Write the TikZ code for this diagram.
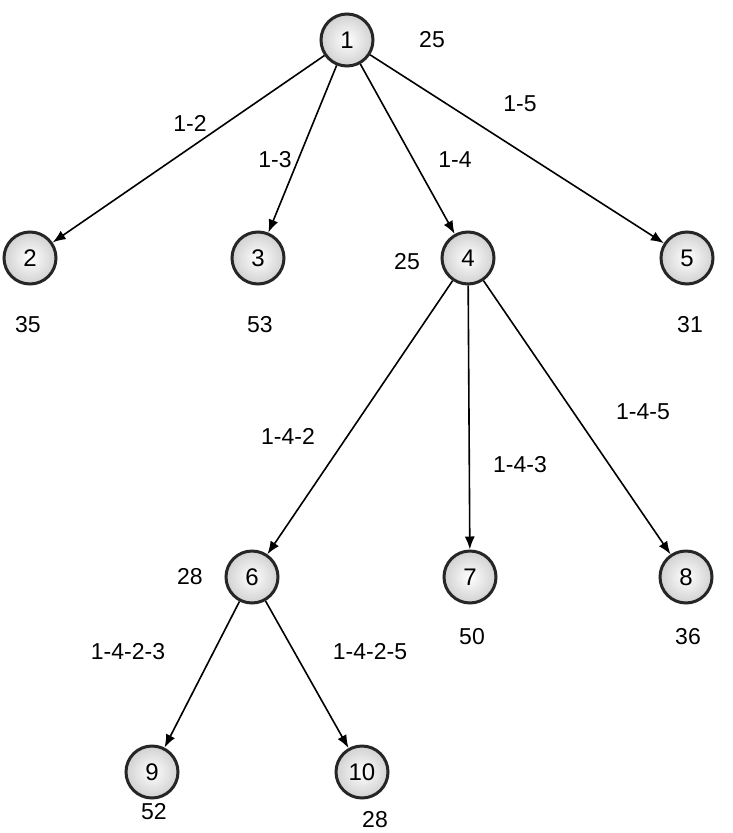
\documentclass[tikz,border=0pt]{standalone}
\usepackage{fontspec}
\setmainfont{Liberation Sans}
\begin{document}
\begin{tikzpicture}[x=1pt,y=-1pt,
  nd/.style={circle,draw=black!85,line width=3pt,minimum size=52pt,inner sep=0pt,inner color=white,outer color=black!18,font=\fontsize{24}{28}\selectfont},
  lb/.style={font=\fontsize{23}{27}\selectfont},
  ar/.style={-{Latex[length=13pt,width=10pt]},line width=1.6pt}]
\useasboundingbox (0,0) rectangle (732,833);
\usetikzlibrary{arrows.meta}
\node[nd] (n1) at (347,40) {1};
\node[nd] (n2) at (30,258) {2};
\node[nd] (n3) at (258,258) {3};
\node[nd] (n4) at (468,258) {4};
\node[nd] (n5) at (687,258) {5};
\node[nd] (n6) at (252,577) {6};
\node[nd] (n7) at (470,577) {7};
\node[nd] (n8) at (686,577) {8};
\node[nd] (n9) at (152,772) {9};
\node[nd] (n10) at (362,772) {10};
\draw[ar] (n1) -- (n2);
\draw[ar] (n1) -- (n3);
\draw[ar] (n1) -- (n4);
\draw[ar] (n1) -- (n5);
\draw[ar] (n4) -- (n6);
\draw[ar] (n4) -- (n7);
\draw[ar] (n4) -- (n8);
\draw[ar] (n6) -- (n9);
\draw[ar] (n6) -- (n10);
\node[lb] (l12) at (190,123) {1-2};
\node[lb] (l13) at (275,160) {1-3};
\node[lb] (l14) at (455,160) {1-4};
\node[lb] (l15) at (520,104) {1-5};
\node[lb] (l142) at (288,436) {1-4-2};
\node[lb] (l143) at (520,465) {1-4-3};
\node[lb] (l145) at (643,412) {1-4-5};
\node[lb] (l1423) at (128,652) {1-4-2-3};
\node[lb] (l1425) at (370,652) {1-4-2-5};
\node[lb] (v1) at (432,40) {25};
\node[lb] (v2) at (28,325) {35};
\node[lb] (v3) at (260,325) {53};
\node[lb] (v4) at (407,262) {25};
\node[lb] (v5) at (690,325) {31};
\node[lb] (v6) at (190,577) {28};
\node[lb] (v7) at (472,637) {50};
\node[lb] (v8) at (688,637) {36};
\node[lb] (v9) at (154,812) {52};
\node[lb] (v10) at (375,820) {28};
\end{tikzpicture}
\end{document}
